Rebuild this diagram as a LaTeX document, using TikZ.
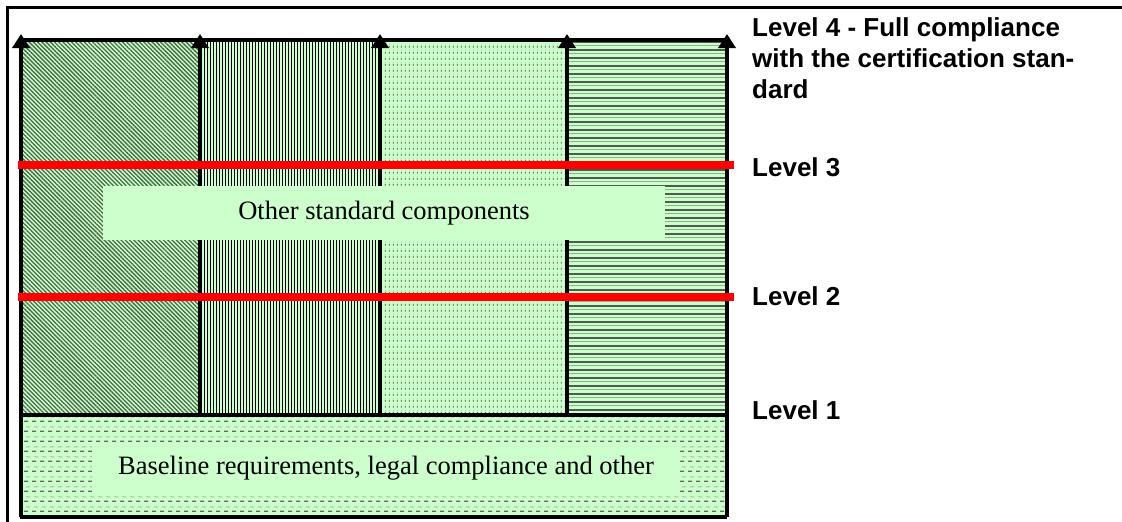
\documentclass[tikz,border=0pt]{standalone}
\usepackage{fontspec}
\setmainfont{Liberation Serif}
\newfontfamily\arialfam{Liberation Sans}
\usetikzlibrary{patterns,patterns.meta,arrows.meta}
\definecolor{lgreen}{HTML}{CCFFCC}
\definecolor{hatchone}{HTML}{4A684A}
\definecolor{hdark}{HTML}{4D5D4D}
\definecolor{hlight}{HTML}{8FB08F}
\definecolor{dashdark}{HTML}{666666}
\definecolor{dashlight}{HTML}{9FBF9F}
\definecolor{dotdark}{HTML}{3A4A3A}
\definecolor{dotlight}{HTML}{A0C8A0}
\pgfdeclarepatterninherentlycolored{bdash}{\pgfpoint{0pt}{0pt}}{\pgfpoint{8pt}{10pt}}{\pgfpoint{8pt}{10pt}}{%
  \pgfsetfillcolor{dashdark}%
  \pgfpathrectangle{\pgfpoint{0pt}{0pt}}{\pgfpoint{4.5pt}{1.4pt}}\pgfusepath{fill}%
  \pgfsetfillcolor{dashlight}%
  \pgfpathrectangle{\pgfpoint{2pt}{5pt}}{\pgfpoint{4.5pt}{1pt}}\pgfusepath{fill}%
}
\pgfdeclarepatterninherentlycolored{vdots}{\pgfpoint{0pt}{0pt}}{\pgfpoint{4pt}{6pt}}{\pgfpoint{4pt}{6pt}}{%
  \pgfsetfillcolor{dotdark}%
  \pgfpathrectangle{\pgfpoint{1pt}{0.5pt}}{\pgfpoint{1pt}{2pt}}\pgfusepath{fill}%
  \pgfsetfillcolor{dotlight}%
  \pgfpathrectangle{\pgfpoint{1pt}{3.8pt}}{\pgfpoint{1pt}{1pt}}\pgfusepath{fill}%
}
\tikzset{
  levellabel/.style={anchor=west, inner sep=0pt, font=\arialfam\bfseries\fontsize{26}{31}\selectfont},
  textbox/.style={fill=lgreen, inner sep=0pt, font=\fontsize{26.5}{30}\selectfont},
  divider/.style={line width=4.5pt, -{Triangle[width=17pt,length=14pt]}},
  redline/.style={draw=red, line width=8pt},
  border/.style={line width=3.5pt}
}
\begin{document}
\begin{tikzpicture}[x=1pt,y=-1pt]
\useasboundingbox (0,0) rectangle (1122,522);
\fill[white] (0,0) rectangle (1122,522);
% outer frame (cropped)
\draw[line width=3pt] (7,540) -- (7,7) -- (1140,7);
% columns
\path[preaction={fill=lgreen}, pattern={Lines[angle=-45,distance=3pt,line width=1.3pt]}, pattern color=hatchone] (20,40) rectangle (200,415);
\path[preaction={fill=lgreen}, pattern={Lines[angle=90,distance=3pt,line width=1pt]}, pattern color=black] (200,40) rectangle (380,415);
\path[preaction={fill=lgreen}, pattern=vdots] (380,40) rectangle (567,415);
\path[preaction={fill=lgreen}, pattern={Lines[angle=0,distance=8pt,line width=2pt]}, pattern color=hdark] (567,40) rectangle (727,415);
\path[pattern={Lines[angle=0,distance=8pt,yshift=4pt,line width=1pt]}, pattern color=hlight] (567,40) rectangle (727,415);
% bottom box
\path[preaction={fill=lgreen}, pattern=bdash] (20,415) rectangle (727,517);
% coordinates
\coordinate (c0b) at (21,517);  \coordinate (c0t) at (21,34);
\coordinate (c1b) at (200,415); \coordinate (c1t) at (200,34);
\coordinate (c2b) at (380,415); \coordinate (c2t) at (380,34);
\coordinate (c3b) at (567,415); \coordinate (c3t) at (567,34);
\coordinate (c4b) at (727,517); \coordinate (c4t) at (727,34);
% borders
\draw[border] (20,40) -- (727,40);
\draw[border] (20,415) -- (727,415);
\draw[border] (20,517) -- (727,517);
% dividers with arrows
\draw[divider] (c0b) -- (c0t);
\draw[divider] (c1b) -- (c1t);
\draw[divider] (c2b) -- (c2t);
\draw[divider] (c3b) -- (c3t);
\draw[divider] (c4b) -- (c4t);
% text boxes
\node[textbox, minimum width=562pt, minimum height=54pt] (other) at (384,213) {Other standard components};
\node[textbox, minimum width=588pt, minimum height=48pt] (base) at (386,468) {Baseline requirements, legal compliance and other};
% red level lines
\coordinate (r3a) at (18,165); \coordinate (r3b) at (734,165);
\coordinate (r2a) at (18,297); \coordinate (r2b) at (734,297);
\draw[redline] (r3a) -- (r3b);
\draw[redline] (r2a) -- (r2b);
% level labels
\node[levellabel, anchor=north west, align=left] (l4) at (752,17) {Level 4 - Full compliance\\with the certification stan-\\dard};
\node[levellabel] (l3) at (752,167) {Level 3};
\node[levellabel] (l2) at (752,296) {Level 2};
\node[levellabel] (l1) at (752,410) {Level 1};
\end{tikzpicture}
\end{document}
